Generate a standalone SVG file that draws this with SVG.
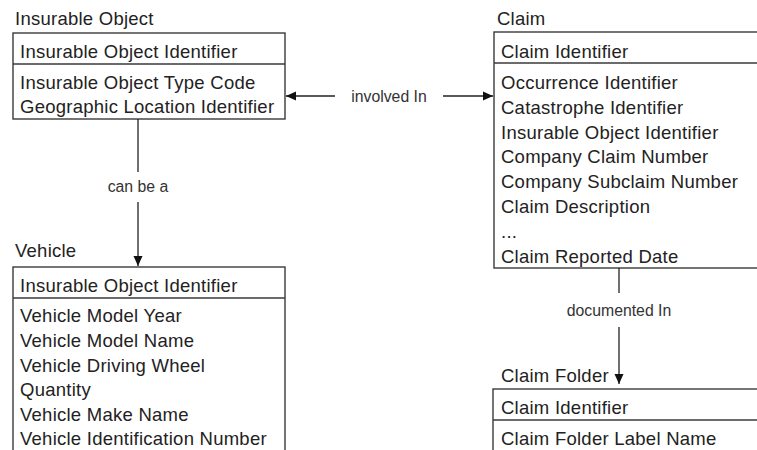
<svg xmlns="http://www.w3.org/2000/svg" width="757" height="450" viewBox="0 0 757 450">
<defs>
<style>
.box{fill:#fff;stroke:#3a3a3a;stroke-width:1.4}
.div{stroke:#3a3a3a;stroke-width:1.4}
.t{font-family:"Liberation Sans",Arial,sans-serif;font-size:18.5px;letter-spacing:0.25px;fill:#222}
.lbl{font-family:"Liberation Sans",Arial,sans-serif;font-size:15.8px;fill:#333;text-anchor:middle}
.ln{stroke:#222;stroke-width:1.3;fill:none}
</style>
<marker id="ah" viewBox="0 0 10 10" refX="10" refY="5" markerWidth="10" markerHeight="10" markerUnits="userSpaceOnUse" orient="auto">
<path d="M0,0.5 L10,5 L0,9.5 Z" fill="#111"/>
</marker>
</defs>
<rect width="757" height="450" fill="#fff"/>
<g id="insurable-object">
<text class="t" x="15" y="25">Insurable Object</text>
<rect class="box" x="13" y="33" width="272" height="86"/>
<line class="div" x1="13" y1="64" x2="285" y2="64"/>
<text class="t" x="20" y="58">Insurable Object Identifier</text>
<text class="t" x="20" y="89">Insurable Object Type Code</text>
<text class="t" x="20" y="113">Geographic Location Identifier</text>
</g>
<g id="claim">
<text class="t" x="497" y="25">Claim</text>
<rect class="box" x="494" y="32" width="300" height="236"/>
<line class="div" x1="494" y1="63" x2="794" y2="63"/>
<text class="t" x="501" y="58">Claim Identifier</text>
<text class="t" x="501" y="89">Occurrence Identifier</text>
<text class="t" x="501" y="114">Catastrophe Identifier</text>
<text class="t" x="501" y="139">Insurable Object Identifier</text>
<text class="t" x="501" y="163">Company Claim Number</text>
<text class="t" x="501" y="188">Company Subclaim Number</text>
<text class="t" x="501" y="213">Claim Description</text>
<text class="t" x="501" y="238">...</text>
<text class="t" x="501" y="263">Claim Reported Date</text>
</g>
<g id="vehicle">
<text class="t" x="15" y="257">Vehicle</text>
<rect class="box" x="13" y="267" width="272" height="200"/>
<line class="div" x1="13" y1="298" x2="285" y2="298"/>
<text class="t" x="20" y="292">Insurable Object Identifier</text>
<text class="t" x="20" y="322">Vehicle Model Year</text>
<text class="t" x="20" y="347">Vehicle Model Name</text>
<text class="t" x="20" y="372">Vehicle Driving Wheel</text>
<text class="t" x="20" y="396">Quantity</text>
<text class="t" x="20" y="421">Vehicle Make Name</text>
<text class="t" x="20" y="445">Vehicle Identification Number</text>
</g>
<g id="claim-folder">
<text class="t" x="501" y="382">Claim Folder</text>
<rect class="box" x="493" y="389" width="300" height="100"/>
<line class="div" x1="493" y1="420" x2="793" y2="420"/>
<text class="t" x="501" y="414">Claim Identifier</text>
<text class="t" x="501" y="445">Claim Folder Label Name</text>
</g>
<g id="connectors">
<line class="ln" x1="138" y1="119" x2="138" y2="172"/>
<line class="ln" x1="138" y1="202" x2="138" y2="266" marker-end="url(#ah)"/>
<text class="lbl" x="138" y="192">can be a</text>
<line class="ln" x1="335" y1="96" x2="286" y2="96" marker-end="url(#ah)"/>
<line class="ln" x1="443" y1="96" x2="493" y2="96" marker-end="url(#ah)"/>
<text class="lbl" x="389" y="102">involved In</text>
<line class="ln" x1="619" y1="268" x2="619" y2="293"/>
<line class="ln" x1="619" y1="327" x2="619" y2="384" marker-end="url(#ah)"/>
<text class="lbl" x="619" y="316">documented In</text>
</g>
</svg>
